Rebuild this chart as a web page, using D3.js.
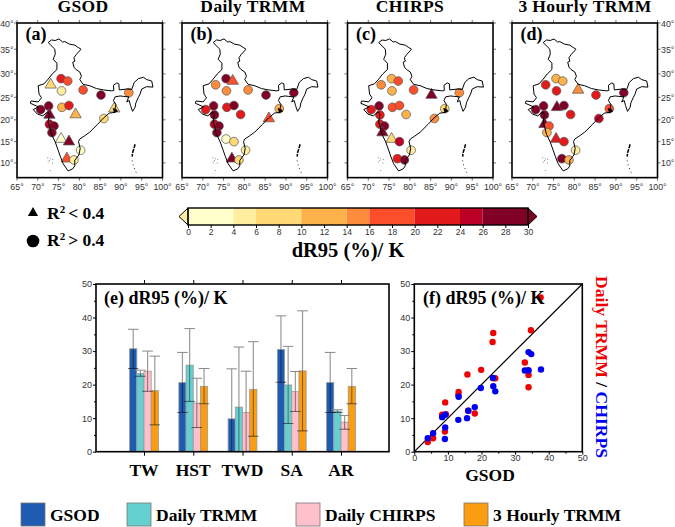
<!DOCTYPE html>
<html>
<head>
<meta charset="utf-8">
<script src="https://cdn.jsdelivr.net/npm/d3@7"></script>
<style>
  html, body { margin: 0; padding: 0; background: #fff; }
  svg { display: block; }
  .serif { font-family: "Liberation Serif", serif; font-weight: bold; fill: #000; }
  .tick text, .lab { font-family: "Liberation Sans", sans-serif; fill: #333; }
</style>
</head>
<body>
<div id="chart"></div>
<script>
// ---- data ----
var panelNames = ["GSOD", "Daily TRMM", "CHIRPS", "3 Hourly TRMM"];
var panelTags = ["(a)", "(b)", "(c)", "(d)"];

// station lon, lat
var stations = [
  [75.6, 29.0], [77.2, 28.5], [75.7, 26.4], [73.1, 27.7], [80.9, 26.6], [85.2, 25.5],
  [91.9, 26.0], [70.7, 22.3], [72.6, 23.1], [75.8, 22.8], [77.5, 23.2], [79.1, 21.2],
  [88.4, 22.5], [72.8, 21.1], [85.9, 20.3], [72.8, 19.0], [73.9, 18.6], [73.4, 17.1],
  [75.6, 15.6], [77.5, 15.0], [80.3, 13.0], [77.0, 11.0], [78.7, 10.7]
];

// dR95 per station, one list for each map
var gsodMap = [22, 18, 5, 8, 17, 28, 15, 28, 27, 12, 22, 12, 8, 28, 9, 25, 28, 28, 3, 28, 3, 18, 5];
var trmmMap = [27, 18, 15, 15, 15, 28, 27, 23, 27, 22, 27, 22, 11, 27, 18, 25, 27, 27, 3, 7, 5, 28, 8];
var chirpsMap = [13, 16, 11, 14, 17, 28, 15, 21, 28, 17, 19, 12, 8, 22, 15, 22, 27, 28, 8, 25, 4, 22, 27];
var hourlyMap = [11, 12, 20, 21, 15, 21, 28, 28, 27, 28, 27, 22, 17, 27, 25, 28, 18, 12, 21, 21, 4, 27, 12];

// station indexes where R2 < 0.4 (triangles)
var gsodWeak = [3, 11, 12, 13, 18, 19, 21];
var trmmWeak = [1, 14, 21];
var chirpsWeak = [5, 17, 18];
var hourlyWeak = [4, 9, 15, 18];

var binEdges = [4, 6, 10, 14, 16, 20, 24, 26];
var binColors = ["#ffffcc", "#ffeda0", "#fed976", "#feb24c", "#fd8d3c", "#fc4e2a", "#e31a1c", "#bd0026", "#800026"];
var barTicks = d3.range(0, 31, 2);

// rough outline of india, lon lat
var indiaOutline = [
  [72.5, 36.3], [73.3, 36.8], [74.2, 36.7], [75.1, 37.0], [76.0, 36.4], [76.5, 36.5], [77.6, 36.0],
  [78.9, 35.8], [79.6, 35.4], [80.4, 35.0], [79.3, 34.0], [78.7, 33.3], [78.9, 32.6], [78.4, 32.4],
  [78.7, 31.4], [79.2, 30.9], [80.1, 30.4], [80.5, 29.5], [80.1, 28.8], [80.9, 27.8], [82.5, 27.5],
  [84.1, 26.9], [85.8, 26.6], [87.8, 26.4], [88.3, 26.5], [88.2, 27.6], [89.0, 28.1], [89.5, 27.9],
  [89.6, 26.6], [91.5, 26.8], [92.6, 26.7], [93.2, 28.2], [94.2, 29.0], [95.4, 29.3], [96.2, 28.8],
  [97.4, 28.5], [97.7, 27.2], [96.2, 27.3], [95.0, 26.8], [94.6, 25.7], [94.2, 25.0], [93.6, 23.8],
  [93.4, 22.8], [92.8, 21.9], [92.3, 23.2], [92.0, 24.3], [91.4, 24.0], [91.9, 25.1], [90.7, 25.2],
  [89.8, 25.3], [88.6, 25.1], [88.2, 24.3], [88.8, 23.4], [88.6, 22.5], [88.6, 21.7], [87.2, 21.5],
  [85.8, 20.4], [84.4, 19.0], [82.5, 17.2], [81.2, 16.3], [80.1, 15.6], [79.8, 15.0], [80.2, 13.4],
  [79.9, 11.9], [78.9, 10.6], [78.9, 9.3], [78.4, 8.6], [77.3, 8.1], [76.1, 9.8], [75.4, 11.6],
  [74.9, 13.0], [74.2, 14.9], [73.3, 16.7], [72.8, 18.6], [72.5, 19.5], [72.8, 21.2], [72.4, 21.8],
  [71.2, 20.9], [69.9, 21.3], [68.9, 22.3], [70.2, 22.9], [68.2, 23.7], [68.4, 24.2], [70.1, 24.0],
  [70.9, 24.9], [70.3, 25.7], [70.1, 27.5], [71.5, 27.9], [72.5, 28.9], [73.5, 30.0], [74.6, 30.9],
  [74.6, 32.2], [73.7, 33.0], [74.2, 34.0], [74.1, 35.0], [72.5, 36.3]
];
var sundarbans = [[88.2, 22.6], [88.5, 21.8], [89.0, 22.0], [88.6, 22.4]];
var andaman = [[93.4, 14.4], [93.1, 13.3], [92.8, 12.4], [92.7, 11.5]];
var nicobar = [[92.7, 10.6], [93.0, 9.2], [93.5, 8.2], [93.8, 7.3]];
var lakshadweep = [[72.4, 11.2], [72.8, 10.6], [73.0, 11.0], [72.5, 10.2], [73.6, 10.8], [73.5, 10.0], [73.0, 8.2]];

// bar panel
var barCats = ["TW", "HST", "TWD", "SA", "AR"];
var barNames = ["GSOD", "Daily TRMM", "Daily CHIRPS", "3 Hourly TRMM"];
var barColors = ["#1f5bb0", "#66cfd0", "#ffc0cb", "#fa9d10"];
var gsodBars = [30.7, 20.6, 9.8, 30.5, 20.6];
var trmmBars = [23.3, 25.8, 13.3, 19.9, 12.1];
var chirpsBars = [24.0, 14.5, 11.7, 17.9, 8.8];
var hourlyBars = [18.2, 19.5, 18.6, 24.1, 19.5];
var gsodHi = [36.5, 29.6, 24.7, 40.5, 29.6];
var trmmHi = [24.3, 36.7, 31.2, 31.4, 12.5];
var chirpsHi = [30.0, 21.9, 24.0, 23.9, 10.8];
var hourlyHi = [28.5, 24.8, 32.8, 42.0, 24.8];
var gsodLo = [24.8, 11.7, 0, 20.7, 11.7];
var trmmLo = [22.5, 15.0, 0, 8.4, 11.7];
var chirpsLo = [18.0, 7.2, 0, 12.0, 6.7];
var hourlyLo = [8.0, 14.3, 4.6, 6.2, 14.3];

// scatter panel, x is always GSOD
var redX = [37.6, 34.7, 23.5, 23.3, 32.9, 34.0, 34.0, 33.9, 19.9, 15.8, 24.1, 13.2, 13.1, 9.2, 16.0, 18.0, 8.3, 9.4, 9.1, 5.6, 4.0, 23.5];
var redY = [46.0, 36.2, 35.4, 32.7, 26.6, 22.9, 19.2, 24.3, 24.4, 23.0, 21.9, 17.8, 16.9, 14.7, 12.2, 11.4, 11.0, 11.2, 6.0, 4.0, 2.9, 21.9];
var blueX = [37.7, 34.0, 34.8, 32.9, 34.0, 23.4, 23.5, 24.1, 19.8, 18.0, 16.1, 15.7, 13.2, 13.1, 9.2, 8.3, 9.2, 9.1, 5.6, 4.0];
var blueY = [24.5, 29.7, 29.1, 24.2, 24.2, 22.0, 19.5, 18.0, 19.0, 13.3, 12.2, 10.0, 16.4, 9.5, 11.0, 10.3, 7.2, 3.8, 5.5, 4.0];

var mapValues = [gsodMap, trmmMap, chirpsMap, hourlyMap];
var mapWeak = [gsodWeak, trmmWeak, chirpsWeak, hourlyWeak];
var barValues = [gsodBars, trmmBars, chirpsBars, hourlyBars];
var barHi = [gsodHi, trmmHi, chirpsHi, hourlyHi];
var barLo = [gsodLo, trmmLo, chirpsLo, hourlyLo];

// ---- drawing ----
var svg = d3.select("#chart").append("svg").attr("width", 675).attr("height", 527);
var color = d3.scaleThreshold().domain(binEdges).range(binColors);

var serif = function(txt, x, y, size, anchor) {
  return svg.append("text").attr("class", "serif").attr("x", x).attr("y", y)
    .attr("font-size", size).attr("text-anchor", anchor || "middle").text(txt);
};

// maps
var mapLefts = [17, 182, 347.5, 512];
var mapWidth = 145.5;
var titleCentres = [83, 253, 410, 585];
var pxPerDeg = mapWidth / 35;
var scaleM = pxPerDeg * 180 / Math.PI;
var trisym = d3.symbol().type(d3.symbolTriangle).size(56);
var circsym = d3.symbol().type(d3.symbolCircle).size(60);

panelNames.forEach(function(name, p) {
  var left = mapLefts[p];
  var proj = d3.geoMercator().scale(scaleM).translate([0, 0]);
  var topY = 23;
  // shift so 65E is on the frame's left edge and 40N on its top
  var corner = proj([65, 40]);
  proj.translate([left - corner[0], topY - corner[1]]);
  var bottomY = proj([65, 6.5])[1];
  var path = d3.geoPath(proj);
  var g = svg.append("g");

  // graticule ticks
  var lons = d3.range(65, 101, 5), lats = d3.range(10, 41, 5);
  lons.forEach(function(lon) {
    var x = proj([lon, 20])[0];
    g.append("line").attr("x1", x).attr("x2", x).attr("y1", topY - 3).attr("y2", topY).attr("stroke", "#333").attr("stroke-width", 0.7);
    g.append("line").attr("x1", x).attr("x2", x).attr("y1", bottomY).attr("y2", bottomY + 3).attr("stroke", "#333").attr("stroke-width", 0.7);
    g.append("text").attr("class", "lab").attr("x", x).attr("y", bottomY + 12)
      .attr("font-size", 8.8).attr("text-anchor", "middle").text(lon + "°");
  });
  lats.forEach(function(lat) {
    var y = proj([70, lat])[1];
    g.append("line").attr("x1", left - 3).attr("x2", left).attr("y1", y).attr("y2", y).attr("stroke", "#333").attr("stroke-width", 0.7);
    g.append("line").attr("x1", left + mapWidth).attr("x2", left + mapWidth + 3).attr("y1", y).attr("y2", y).attr("stroke", "#333").attr("stroke-width", 0.7);
    if (p == 0) {
      g.append("text").attr("class", "lab").attr("x", left - 3.5).attr("y", y + 3.5)
        .attr("font-size", 8.8).attr("text-anchor", "end").text(lat + "°");
    }
    if (p == 3) {
      g.append("text").attr("class", "lab").attr("x", left + mapWidth + 3.5).attr("y", y + 3.5)
        .attr("font-size", 8.8).text(lat + "°");
    }
  });

  // stations, circles and triangles
  var vals = mapValues[p], weak = mapWeak[p];
  g.selectAll("path.st").data(stations).enter().append("path")
    .attr("class", "st")
    .attr("transform", function(d) { var c = proj(d); return "translate(" + c[0] + "," + c[1] + ")"; })
    .attr("d", function(d, i) { return weak.indexOf(i) >= 0 ? trisym() : circsym(); })
    .attr("fill", function(d, i) { return color(vals[i]); })
    .attr("stroke", "#555")
    .attr("stroke-width", 0.7);

  // coast goes over the markers
  g.append("path").datum({ type: "LineString", coordinates: indiaOutline })
    .attr("d", path).attr("fill", "none").attr("stroke", "#000").attr("stroke-width", 1);
  g.append("path").datum({ type: "LineString", coordinates: sundarbans })
    .attr("d", path).attr("fill", "none").attr("stroke", "#000").attr("stroke-width", 1.6);
  g.append("path").datum({ type: "LineString", coordinates: andaman })
    .attr("d", path).attr("fill", "none").attr("stroke", "#000").attr("stroke-width", 1.5).attr("stroke-dasharray", "4 1");
  g.append("path").datum({ type: "LineString", coordinates: nicobar })
    .attr("d", path).attr("fill", "none").attr("stroke", "#000").attr("stroke-width", 0.8).attr("stroke-dasharray", "1 3");
  g.selectAll("circle.isl").data(lakshadweep).enter().append("circle")
    .attr("class", "isl")
    .attr("cx", function(d) { return proj(d)[0]; })
    .attr("cy", function(d) { return proj(d)[1]; })
    .attr("r", 0.5).attr("fill", "#666");

  g.append("rect").attr("x", left).attr("y", topY).attr("width", mapWidth).attr("height", bottomY - topY)
    .attr("fill", "none").attr("stroke", "#000").attr("stroke-width", 1.6);

  serif(name, titleCentres[p], 12, 17.5).attr("letter-spacing", 0.4);
  serif(panelTags[p], left + 8.5, 40, 18, "start");
});

// R2 key
svg.append("path").attr("d", d3.symbol().type(d3.symbolTriangle).size(45)())
  .attr("transform", "translate(33,213)").attr("fill", "#000");
svg.append("circle").attr("cx", 33).attr("cy", 241).attr("r", 6.3).attr("fill", "#000");
var keyTexts = ["< 0.4", "> 0.4"];
keyTexts.forEach(function(t, i) {
  var tx = serif("R", 47, 219 + i * 27, 17.5, "start");
  tx.append("tspan").attr("font-size", 11).attr("dy", -6).text("2");
  tx.append("tspan").attr("font-size", 17.5).attr("dy", 6).attr("dx", 3).text(t);
});

// colour bar
var cbX = d3.scaleLinear().domain([0, 30]).range([188, 528]);
var cbTop = 208, cbH = 17;
var cbEdges = [0].concat(binEdges).concat([30]);
svg.selectAll("rect.cb").data(binColors).enter().append("rect")
  .attr("class", "cb")
  .attr("x", function(d, i) { return cbX(cbEdges[i]); })
  .attr("width", function(d, i) { return cbX(cbEdges[i + 1]) - cbX(cbEdges[i]); })
  .attr("y", cbTop).attr("height", cbH)
  .attr("fill", function(d) { return d; });
svg.append("path")
  .attr("d", "M" + cbX(0) + "," + cbTop + "l-9," + (cbH / 2) + "l9," + (cbH / 2) + "z")
  .attr("fill", "#ffeda0").attr("stroke", "#000").attr("stroke-width", 1);
svg.append("path")
  .attr("d", "M" + cbX(30) + "," + cbTop + "l9," + (cbH / 2) + "l-9," + (cbH / 2) + "z")
  .attr("fill", "#800026").attr("stroke", "#000").attr("stroke-width", 1);
svg.append("rect").attr("x", cbX(0)).attr("y", cbTop).attr("width", cbX(30) - cbX(0)).attr("height", cbH)
  .attr("fill", "none").attr("stroke", "#000").attr("stroke-width", 1.4);
var cbAxis = svg.append("g").attr("transform", "translate(0," + (cbTop + cbH) + ")")
  .call(d3.axisBottom(cbX).tickValues(barTicks).tickSize(3).tickPadding(1));
cbAxis.select(".domain").remove();
cbAxis.selectAll("text").attr("font-size", 8.5).attr("font-family", "Liberation Sans");
serif("dR95 (%)/ K", 348, 257, 20.5);

// bars
var plotTop = 284, plotBottom = 451.7;
var catX = d3.scalePoint().domain(barCats).range([144, 341]);
var serX = d3.scaleBand().domain(barNames).range([-14.4, 14.4]);
var barY = d3.scaleLinear().domain([0, 50]).range([plotBottom, plotTop]);
var barG = svg.append("g");

barNames.forEach(function(name, s) {
  var group = barG.append("g");
  group.selectAll("rect").data(barCats).enter().append("rect")
    .attr("x", function(c) { return catX(c) + serX(name); })
    .attr("width", serX.bandwidth())
    .attr("y", function(c, i) { return barY(barValues[s][i]); })
    .attr("height", function(c, i) { return barY(0) - barY(barValues[s][i]); })
    .attr("fill", barColors[s])
    .attr("stroke", "#999")
    .attr("stroke-width", 0.8);
});

// error bars on top, grey above the value and dark below it
barNames.forEach(function(name, s) {
  barCats.forEach(function(c, i) {
    var cx = catX(c) + serX(name) + serX.bandwidth() / 2;
    var v = barValues[s][i], hi = barHi[s][i], lo = barLo[s][i];
    barG.append("line").attr("x1", cx).attr("x2", cx).attr("y1", barY(hi)).attr("y2", barY(v))
      .attr("stroke", "#999").attr("stroke-width", 1.2);
    barG.append("line").attr("x1", cx - 5.3).attr("x2", cx + 5.3).attr("y1", barY(hi)).attr("y2", barY(hi))
      .attr("stroke", "#888").attr("stroke-width", 1);
    barG.append("line").attr("x1", cx).attr("x2", cx).attr("y1", barY(v)).attr("y2", barY(lo))
      .attr("stroke", "#000").attr("stroke-opacity", 0.45).attr("stroke-width", 1);
    if (lo > 0) {
      barG.append("line").attr("x1", cx - 5.3).attr("x2", cx + 5.3).attr("y1", barY(lo)).attr("y2", barY(lo))
        .attr("stroke", "#000").attr("stroke-opacity", 0.6).attr("stroke-width", 0.9);
    }
  });
});

var drawFrame = function(x0, x1) {
  svg.append("rect").attr("x", x0).attr("y", plotTop).attr("width", x1 - x0).attr("height", plotBottom - plotTop)
    .attr("fill", "none").attr("stroke", "#000").attr("stroke-width", 1.6);
};
var yAxisFor = function(x0, scale) {
  var major = svg.append("g").attr("transform", "translate(" + x0 + ",0)")
    .call(d3.axisLeft(scale).tickValues(d3.range(0, 51, 10)).tickSize(3).tickPadding(1));
  major.select(".domain").remove();
  major.selectAll("text").attr("font-size", 9).attr("font-family", "Liberation Sans");
  var minor = svg.append("g").attr("transform", "translate(" + x0 + ",0)")
    .call(d3.axisLeft(scale).tickValues(d3.range(5, 50, 10)).tickSize(2).tickFormat(""));
  minor.select(".domain").remove();
};

drawFrame(96, 389);
yAxisFor(96, barY);
var catTop = svg.append("g").attr("transform", "translate(0," + plotTop + ")")
  .call(d3.axisTop(catX).tickSize(4).tickFormat(""));
catTop.select(".domain").remove();
var catBottom = svg.append("g").attr("transform", "translate(0," + plotBottom + ")")
  .call(d3.axisBottom(catX).tickSize(4).tickFormat(""));
catBottom.select(".domain").remove();
barCats.forEach(function(c) { serif(c, catX(c), 476, 17.5); });
serif("(e) dR95 (%)/ K", 104, 304, 18, "start");

// scatter
var scX = d3.scaleLinear().domain([0, 50]).range([414.3, 582.3]);
var scY = d3.scaleLinear().domain([0, 50]).range([plotBottom, plotTop]);
svg.append("line").attr("x1", scX(0)).attr("y1", scY(0)).attr("x2", scX(50)).attr("y2", scY(50))
  .attr("stroke", "#000").attr("stroke-width", 1.2);
svg.selectAll("circle.red").data(redX).enter().append("circle")
  .attr("class", "red")
  .attr("cx", function(d) { return scX(d); })
  .attr("cy", function(d, i) { return scY(redY[i]); })
  .attr("r", 3.2).attr("fill", "#f00000");
svg.selectAll("circle.blue").data(blueX).enter().append("circle")
  .attr("class", "blue")
  .attr("cx", function(d) { return scX(d); })
  .attr("cy", function(d, i) { return scY(blueY[i]); })
  .attr("r", 3.2).attr("fill", "#0000f0");
drawFrame(414.3, 582.3);
yAxisFor(414.3, scY);
var scBottom = svg.append("g").attr("transform", "translate(0," + plotBottom + ")")
  .call(d3.axisBottom(scX).tickValues(d3.range(0, 51, 10)).tickSize(3).tickPadding(0));
scBottom.select(".domain").remove();
scBottom.selectAll("text").attr("font-size", 9).attr("font-family", "Liberation Sans");
var scMinor = svg.append("g").attr("transform", "translate(0," + plotBottom + ")")
  .call(d3.axisBottom(scX).tickValues(d3.range(5, 50, 10)).tickSize(2).tickFormat(""));
scMinor.select(".domain").remove();
serif("(f) dR95 (%)/ K", 423, 304, 18, "start");
serif("GSOD", 490, 481, 17.5);

var sideLab = svg.append("text").attr("class", "serif")
  .attr("transform", "translate(596,276) rotate(90)")
  .attr("font-size", 17.6);
sideLab.append("tspan").style("fill", "#f00000").text("Daily TRMM");
sideLab.append("tspan").text(" / ");
sideLab.append("tspan").style("fill", "#0000f0").text("CHIRPS");

// bottom legend
var swatchX = [21, 127, 296, 464];
barNames.forEach(function(name, i) {
  svg.append("rect").attr("x", swatchX[i]).attr("y", 503).attr("width", 24).attr("height", 23)
    .attr("fill", barColors[i]).attr("stroke", "#777").attr("stroke-width", 0.8);
  serif(name, swatchX[i] + 29, 521, 17.5, "start");
});
</script>
</body>
</html>
